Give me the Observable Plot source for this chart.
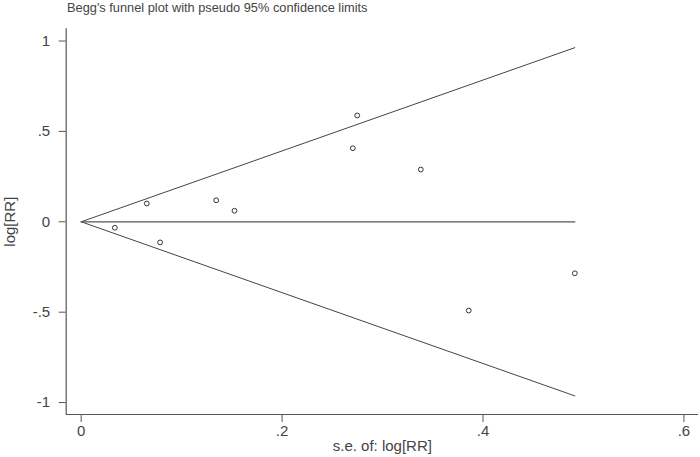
<!DOCTYPE html>
<html>
<head>
<meta charset="utf-8">
<script src="https://cdn.jsdelivr.net/npm/d3@7"></script>
<script src="https://cdn.jsdelivr.net/npm/@observablehq/plot@0.6"></script>
<style>
  html, body { margin: 0; padding: 0; background: #fff; }
  #title { height: 18px; line-height: 19px; padding-left: 67px; font: 12.8px "Liberation Sans", Arial, sans-serif; color: #444; white-space: nowrap; }
</style>
</head>
<body>
<div id="title">Begg's funnel plot with pseudo 95% confidence limits</div>
<div id="chart"></div>
<script>
// Study standard errors (s.e. of log[RR]) and effect sizes (log[RR])
const se    = [0.0335, 0.0653, 0.0786, 0.1344, 0.1526, 0.2704, 0.2748, 0.3381, 0.3858, 0.4914];
const logRR = [-0.033, 0.101, -0.114, 0.119, 0.061, 0.407, 0.588, 0.289, -0.491, -0.285];

// Axis ticks
const xTicks = [0, 0.2, 0.4, 0.6];
const xTickLabels = ["0", ".2", ".4", ".6"];
const yTicks = [-1, -0.5, 0, 0.5, 1];
const yTickLabels = ["-1", "-.5", "0", ".5", "1"];

// Pooled estimate and pseudo 95% limits (z = 1.96), drawn from 0 to max s.e.
const pooled = 0;
const z = 1.96;
const maxSe = d3.max(se);

const points = se.map((s, i) => ({se: s, y: logRR[i]}));
const upper = [{se: 0, y: pooled}, {se: maxSe, y: pooled + z * maxSe}];
const lower = [{se: 0, y: pooled}, {se: maxSe, y: pooled - z * maxSe}];
const mid   = [{se: 0, y: pooled}, {se: maxSe, y: pooled}];

const xDomain = [-0.0149, 0.6145];
const yDomain = [-1.066, 1.0675];
const ink = "#555";

const chart = Plot.plot({
  width: 700,
  height: 439,
  marginLeft: 65.7,
  marginRight: 2,
  marginTop: 10.3,
  marginBottom: 43,
  style: {fontFamily: "'Liberation Sans', Arial, sans-serif", fontSize: "14px", color: "#444", background: "#fff"},
  x: {domain: xDomain},
  y: {domain: yDomain},
  marks: [
    Plot.ruleX([xDomain[0]], {stroke: ink, strokeWidth: 1.2}),
    Plot.ruleY([yDomain[0]], {stroke: ink, strokeWidth: 1.2}),
    Plot.axisX({ticks: xTicks, tickFormat: (d, i) => xTickLabels[xTicks.indexOf(d)], tickSize: 8, tickPadding: 3,
      stroke: ink, fill: "#444", fontSize: 15, label: "s.e. of: log[RR]", labelAnchor: "center", labelArrow: "none", labelOffset: 36}),
    Plot.axisY({ticks: yTicks, tickFormat: d => yTickLabels[yTicks.indexOf(d)], tickSize: 7, tickPadding: 9,
      stroke: ink, fill: "#444", fontSize: 15, label: "log[RR]", labelAnchor: "center", labelArrow: "none", labelOffset: 62}),
    Plot.line(upper, {x: "se", y: "y", stroke: "#444", strokeWidth: 1}),
    Plot.line(lower, {x: "se", y: "y", stroke: "#444", strokeWidth: 1}),
    Plot.line(mid, {x: "se", y: "y", stroke: "#555", strokeWidth: 1.3}),
    Plot.dot(points, {x: "se", y: "y", r: 2.4, stroke: "#333", fill: "#fff", strokeWidth: 1})
  ]
});
document.getElementById("chart").appendChild(chart);
</script>
</body>
</html>
